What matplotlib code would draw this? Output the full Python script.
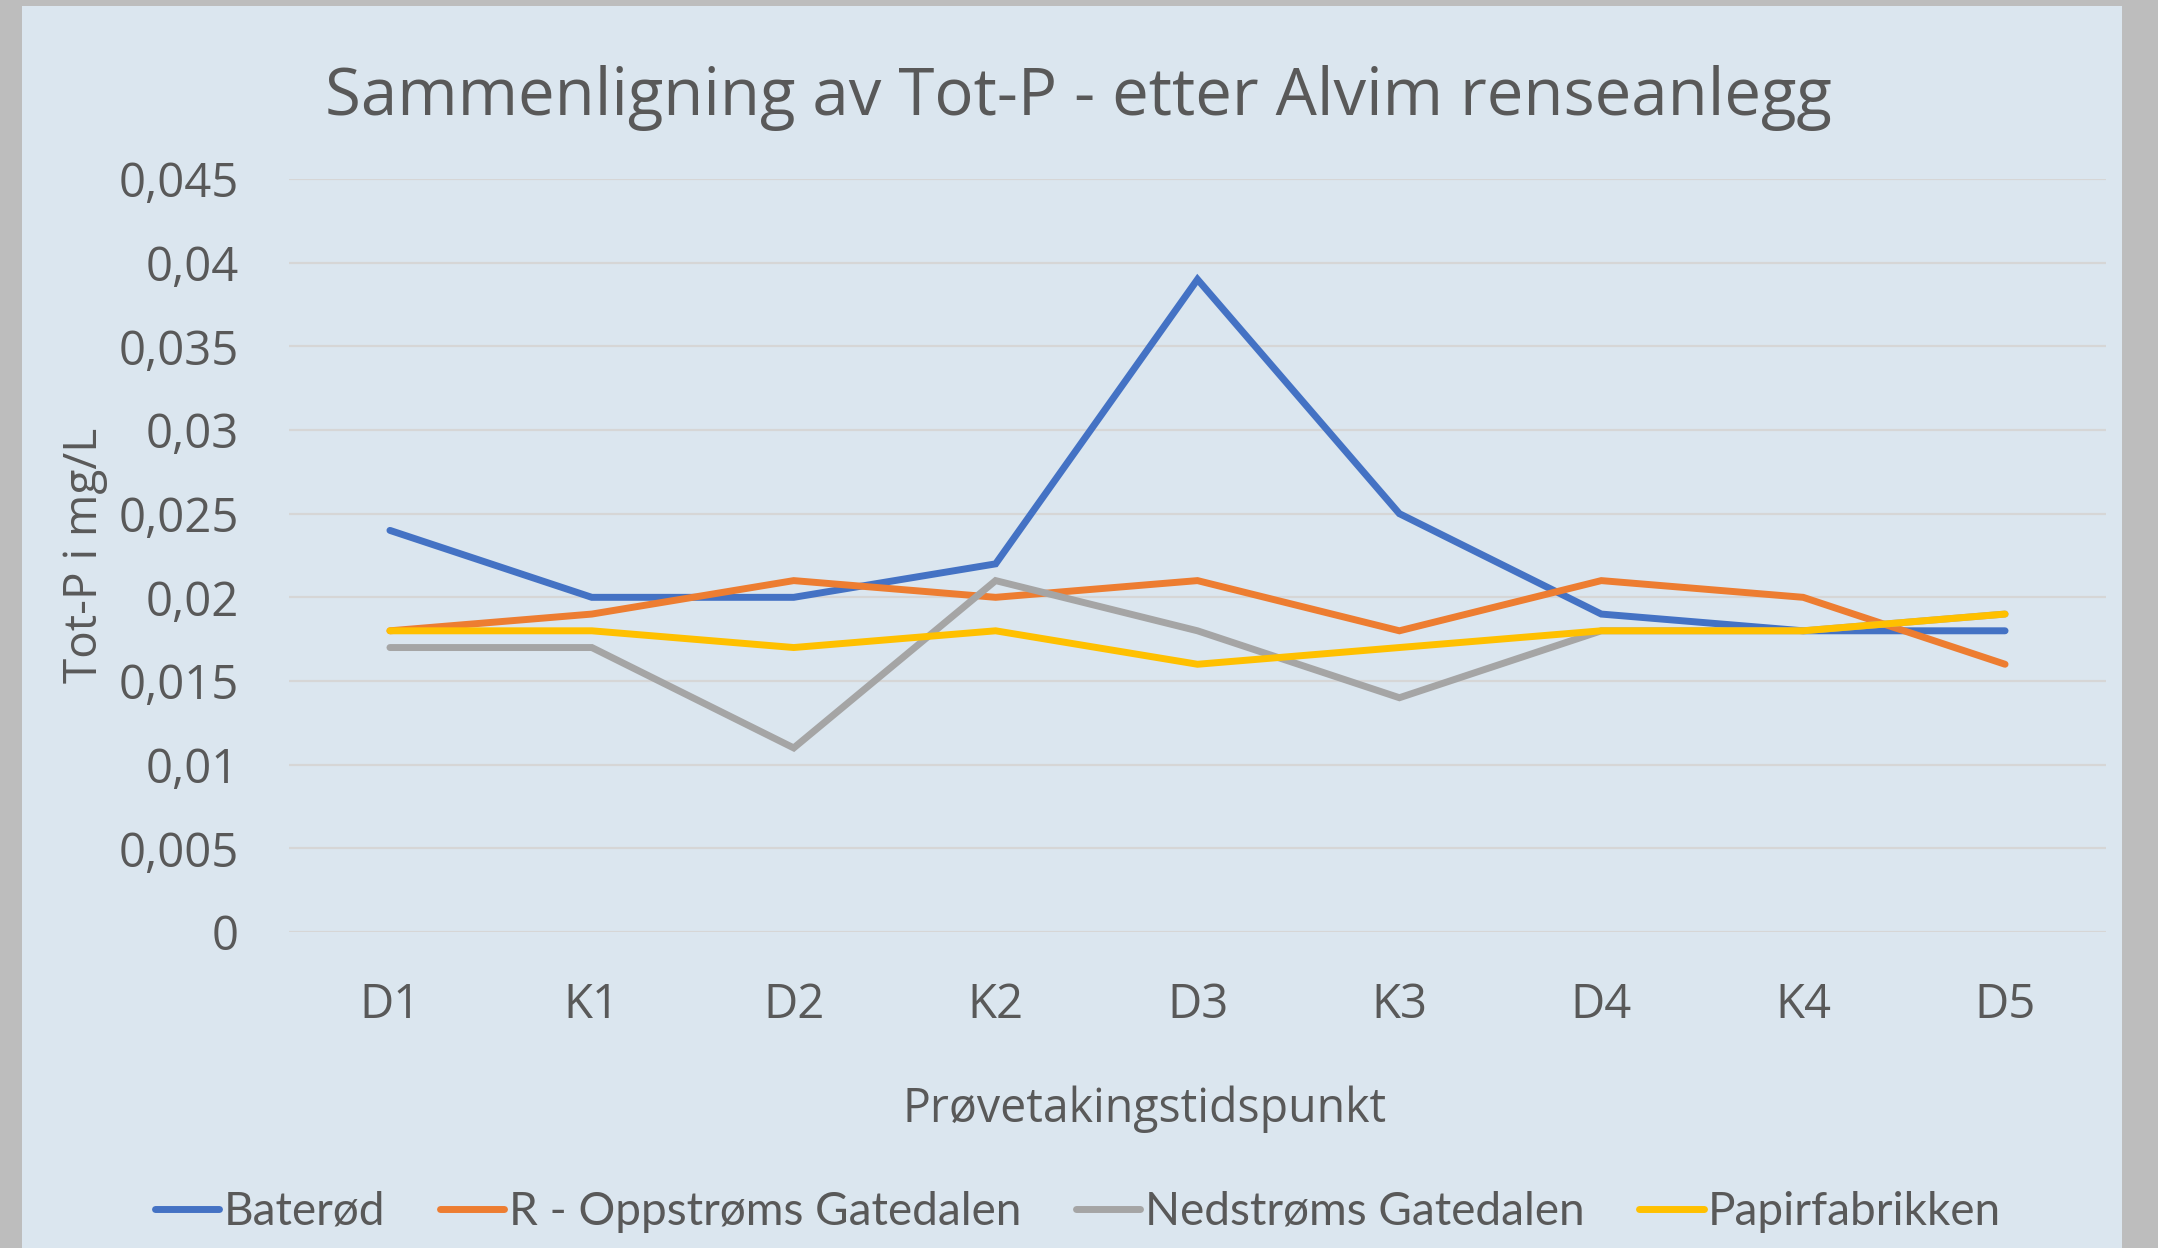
import matplotlib
matplotlib.use('Agg')
import matplotlib.pyplot as plt
from matplotlib.patches import Rectangle

categories = ['D1', 'K1', 'D2', 'K2', 'D3', 'K3', 'D4', 'K4', 'D5']
baterod = [0.024, 0.020, 0.020, 0.022, 0.039, 0.025, 0.019, 0.018, 0.018]
oppstroms = [0.018, 0.019, 0.021, 0.020, 0.021, 0.018, 0.021, 0.020, 0.016]
nedstroms = [0.017, 0.017, 0.011, 0.021, 0.018, 0.014, 0.018, 0.018, 0.019]
papir = [0.018, 0.018, 0.017, 0.018, 0.016, 0.017, 0.018, 0.018, 0.019]
yticks = [0, 0.005, 0.01, 0.015, 0.02, 0.025, 0.03, 0.035, 0.04, 0.045]
ytick_labels = ['0', '0,005', '0,01', '0,015', '0,02', '0,025', '0,03', '0,035', '0,04', '0,045']

series = [
    ('Baterød', baterod, '#4472C4'),
    ('R - Oppstrøms Gatedalen', oppstroms, '#ED7D31'),
    ('Nedstrøms Gatedalen', nedstroms, '#A5A5A5'),
    ('Papirfabrikken', papir, '#FFC000'),
]

W, H = 2158, 1248
txt = '#595959'
main_font = ['Open Sans', 'DejaVu Sans']

fig = plt.figure(figsize=(W / 100, H / 100), dpi=100, facecolor='#bdbdbd')
# chart panel (photo-like background approximated by a flat colour)
fig.patches.append(Rectangle((22 / W, 0), 2100 / W, 1 - 6 / H, transform=fig.transFigure,
                             facecolor='#dbe6ef', edgecolor='none', zorder=-5))

ax = fig.add_axes([289 / W, 1 - 932 / H, (2106 - 289) / W, (932 - 179) / H])
ax.set_facecolor('none')
ax.set_zorder(2)

x = list(range(len(categories)))
for name, vals, col in series:
    ax.plot(x, vals, color=col, lw=5, label=name, solid_capstyle='round',
            solid_joinstyle='miter')

ax.set_xlim(-0.5, len(categories) - 0.5)
ax.set_ylim(0, 0.045)
ax.set_yticks(yticks)
ax.set_yticklabels(ytick_labels, fontsize=34, color=txt, family=main_font)
ax.set_xticks(x)
ax.set_xticklabels(categories, fontsize=34, color=txt, family=main_font)
ax.tick_params(length=0)
ax.tick_params(axis='y', pad=36)
ax.tick_params(axis='x', pad=36)
ax.grid(axis='y', color='#d6d6d6', lw=1.6)
ax.set_axisbelow(True)
for s in ax.spines.values():
    s.set_visible(False)

fig.text(1078 / W, 1 - 98 / H, 'Sammenligning av Tot-P - etter Alvim renseanlegg',
         ha='center', va='center', fontsize=47, color=txt, family=main_font)
fig.text(1145 / W, 1 - 1109 / H, 'Prøvetakingstidspunkt', ha='center', va='center',
         fontsize=33.5, color=txt, family=main_font)
fig.text(85 / W, 1 - 555 / H, 'Tot-P i mg/L', ha='center', va='center', rotation=90,
         fontsize=33, color=txt, family=main_font)

leg = fig.legend(loc='center', bbox_to_anchor=(1078 / W, 1 - 1212 / H), ncol=4,
                 frameon=False, handlelength=1.4, handletextpad=0.1, columnspacing=1.2,
                 prop={'family': ['Lato', 'DejaVu Sans'], 'size': 33})
for t in leg.get_texts():
    t.set_color(txt)

fig.savefig('out.png', dpi=100, facecolor=fig.get_facecolor())
